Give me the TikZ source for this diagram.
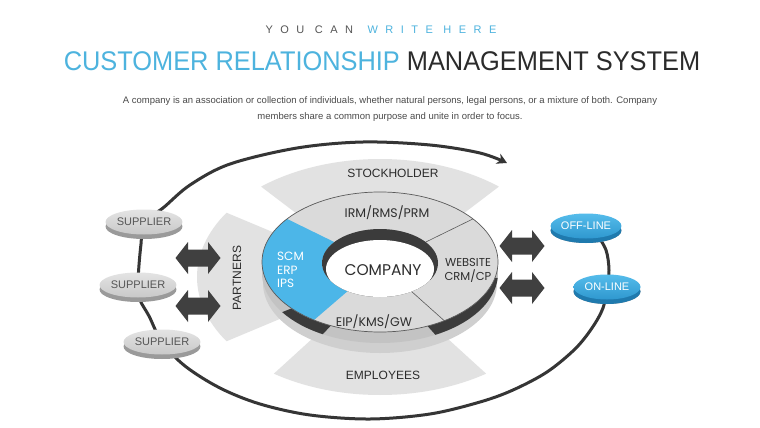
\documentclass[tikz,border=0pt]{standalone}
\usepackage{fontspec}
\setmainfont{Liberation Sans}
\newfontfamily\popp{Poppins}
\usetikzlibrary{shapes.geometric,arrows.meta,calc}
\definecolor{titleblue}{HTML}{4DB3DE}
\definecolor{titledark}{HTML}{2B2B2B}
\definecolor{subgray}{HTML}{555555}
\definecolor{segblue}{HTML}{4CB6E8}
\definecolor{bandgray}{HTML}{E2E2E2}
\definecolor{ringtop}{HTML}{DADADA}
\definecolor{ringline}{HTML}{5A5A5A}
\definecolor{darkside}{HTML}{3B3B3B}
\definecolor{lightside}{HTML}{C3C3C3}
\definecolor{shadowgray}{HTML}{CFCFCF}
\definecolor{txt}{HTML}{2E2E2E}
\definecolor{bodytxt}{HTML}{4A4A4A}
\definecolor{curvegray}{HTML}{353535}
\definecolor{arrowgray}{HTML}{404040}
\definecolor{disctopA}{HTML}{E4E4E4}
\definecolor{disctopB}{HTML}{C8C8C8}
\definecolor{discside}{HTML}{9A9A9A}
\definecolor{bluetopA}{HTML}{55BCEB}
\definecolor{bluetopB}{HTML}{2F98CF}
\definecolor{blueside}{HTML}{1F7AAE}
\begin{document}
\begin{tikzpicture}[x=1pt,y=-1pt,
  bandlabel/.style={font=\fontsize{12}{12}\selectfont, text=titledark, inner sep=0pt},
  ringlabel/.style={font=\popp\fontsize{12.5}{14}\selectfont, text=txt, inner sep=0pt, align=center},
  disc/.style={ellipse, minimum width=67pt, minimum height=25pt, inner sep=0pt,
    font=\fontsize{11}{11}\selectfont, text=subgray, top color=disctopA, bottom color=disctopB,
    preaction={fill=discside, transform canvas={yshift=-4.5pt}}},
  bluedisc/.style={disc, text=white, top color=bluetopA, bottom color=bluetopB,
    preaction={fill=blueside, transform canvas={yshift=-4.5pt}}},
  dblarrow/.pic={\fill[arrowgray] (-22.5,0) -- (-10,-16) -- (-10,-8.5) -- (10,-8.5) -- (10,-16)
     -- (22.5,0) -- (10,16) -- (10,8.5) -- (-10,8.5) -- (-10,16) -- cycle;}
]
\useasboundingbox (0,0) rectangle (760,428);
\fill[white] (0,0) rectangle (760,428);

% header
\node[font=\fontsize{11}{11}\selectfont\addfontfeatures{LetterSpace=68}, inner sep=0pt] (sub) at (381,30)
  {\textcolor{subgray}{YOU CAN}\hspace{4pt} \textcolor{titleblue}{WRITE HERE}};
\node[inner sep=0pt] (title) at (382,61)
  {\scalebox{0.94}[1]{\fontsize{27}{27}\selectfont\textcolor{titleblue}{CUSTOMER RELATIONSHIP} \textcolor{titledark}{MANAGEMENT SYSTEM}}};
\node[font=\fontsize{9.5}{16}\selectfont, text=bodytxt, align=center, inner sep=0pt] (para) at (390,109)
  {A company is an association or collection of individuals, whether natural persons, legal persons, or a mixture of both. Company\\
   members share a common purpose and unite in order to focus.};

% coordinates of the outer loop nodes
\coordinate (s1p) at (144,222);
\coordinate (s2p) at (138,285);
\coordinate (s3p) at (162,342);
\coordinate (offp) at (586,226);
\coordinate (onp) at (607,287);
\coordinate (loopend) at (507,163);

% big loop
\draw[curvegray, line width=3pt, -{Stealth[length=10pt,width=11pt]}]
  plot[smooth, tension=0.55] coordinates {(596,233) (606,250) (609,270) (onp) (603,308) (592,328) (575,349)
   (547,372) (513,390) (480,402) (430,414) (370,419) (310,415) (260,404) (220,388) (185,366) (s3p)
   (149,316) (140,300) (s2p) (139,265) (141,244) (s1p) (163,208) (190,185) (230,164) (297,148)
   (363,142) (430,145) (480,153) (loopend)};

% bands
\fill[bandgray] (380,277) -- ($(380,277)+(230:185 and 118)$) arc[start angle=230,end angle=310,x radius=185,y radius=118] -- cycle;
\fill[bandgray] (380,277) -- ($(380,277)+(147:183 and 118)$) arc[start angle=147,end angle=213,x radius=183,y radius=118] -- cycle;
\fill[bandgray] (380,277) -- ($(380,277)+(55:185 and 118)$) arc[start angle=55,end angle=125,x radius=185,y radius=118] -- cycle;

% ring shadow and side
\fill[shadowgray] (380,283) ellipse[x radius=117, y radius=70];
\fill[lightside] (380,273) ellipse[x radius=118, y radius=70];
\fill[darkside] (380,273) -- ($(380,273)+(4:118 and 70)$) arc[start angle=4,end angle=62,x radius=118,y radius=70] -- cycle;
\fill[darkside] (380,273) -- ($(380,273)+(119:118 and 70)$) arc[start angle=119,end angle=146,x radius=118,y radius=70] -- cycle;

% ring top
\fill[ringtop] (380,262) ellipse[x radius=118, y radius=70];
\fill[segblue] ($(380,262)+(124:118 and 70)$) arc[start angle=124,end angle=218,x radius=118,y radius=70]
  -- ($(380,263)+(218:58 and 34)$) arc[start angle=218,end angle=124,x radius=58,y radius=34] -- cycle;
\draw[ringline, line width=0.7pt] (380,262) ellipse[x radius=118, y radius=70];
\draw[ringline, line width=0.6pt] ($(380,262)+(322:118 and 70)$) -- ($(380,263)+(322:58 and 34)$);
\draw[ringline, line width=0.6pt] ($(380,262)+(57:118 and 70)$) -- ($(380,263)+(57:58 and 34)$);

% hole
\fill[darkside] (380,263) ellipse[x radius=58, y radius=34];
\begin{scope}
  \clip (380,263) ellipse[x radius=58, y radius=34];
  \fill[white] (380,269) ellipse[x radius=54, y radius=29];
\end{scope}

% labels
\node[bandlabel] (stock) at (393,173) {STOCKHOLDER};
\node[bandlabel] (empl) at (383,375) {EMPLOYEES};
\node[bandlabel, rotate=90] (part) at (237,278) {PARTNERS};
\node[ringlabel] (irm) at (387,213) {IRM/RMS/PRM};
\node[ringlabel] (eip) at (374,322) {EIP/KMS/GW};
\node[ringlabel, font=\popp\fontsize{11.5}{14}\selectfont] (web) at (468,270) {WEBSITE\\CRM/CP};
\node[ringlabel, text=white, align=left, font=\popp\fontsize{12}{13.5}\selectfont, anchor=west] (scm) at (277,270) {SCM\\ERP\\IPS};
\node[font=\popp\fontsize{15.5}{15.5}\selectfont, text=txt, inner sep=0pt] (company) at (383,270) {COMPANY};

% double arrows
\pic at (198,258) {dblarrow};
\pic at (198,306) {dblarrow};
\pic at (522,246) {dblarrow};
\pic at (522,288) {dblarrow};

% loop nodes
\node[disc] (s1) at (s1p) {SUPPLIER};
\node[disc] (s2) at (s2p) {SUPPLIER};
\node[disc] (s3) at (s3p) {SUPPLIER};
\node[bluedisc] (off) at (offp) {OFF-LINE};
\node[bluedisc] (on) at (onp) {ON-LINE};
\end{tikzpicture}
\end{document}
